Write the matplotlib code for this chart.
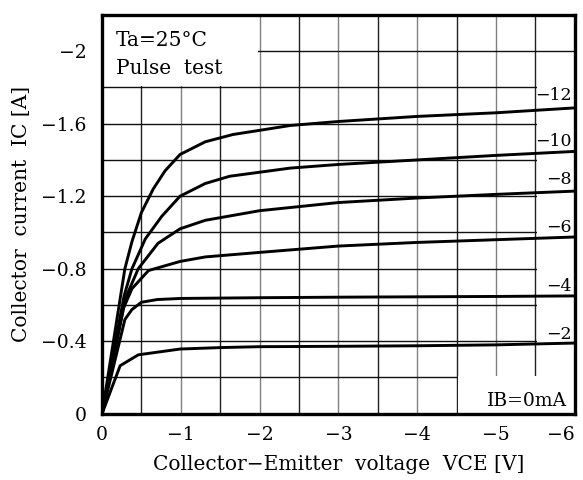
import numpy as np
import matplotlib
matplotlib.use("Agg")
import matplotlib.pyplot as plt
from matplotlib.patches import Rectangle

# ─── Data ────────────────────────────────────────────────────────────
ib_labels = ["−2", "−4", "−6", "−8", "−10", "−12"]

vce_2 = [0, -0.23, -0.46, -0.99, -1.5, -2, -3, -4, -5, -6]
ic_2 = [0, -0.265, -0.325, -0.357, -0.365, -0.37, -0.372, -0.375, -0.38, -0.39]

vce_4 = [0, -0.29, -0.38, -0.5, -0.7, -1.0, -2, -3, -4, -5, -6]
ic_4 = [0, -0.52, -0.575, -0.615, -0.63, -0.636, -0.64, -0.643, -0.645, -0.647, -0.65]

vce_6 = [0, -0.27, -0.38, -0.59, -0.99, -1.31, -2, -3, -4, -5, -6]
ic_6 = [0, -0.58, -0.69, -0.79, -0.84, -0.865, -0.89, -0.925, -0.945, -0.96, -0.975]

vce_8 = [0, -0.3, -0.46, -0.71, -0.99, -1.31, -2, -3, -4, -5, -6]
ic_8 = [0, -0.64, -0.80, -0.94, -1.02, -1.067, -1.12, -1.165, -1.19, -1.21, -1.228]

vce_10 = [0, -0.28, -0.38, -0.55, -0.76, -0.99, -1.31, -1.62, -2.39, -3, -4, -5, -6]
ic_10 = [0, -0.65, -0.80, -0.965, -1.09, -1.20, -1.27, -1.31, -1.355, -1.375, -1.40, -1.425, -1.447]

vce_12 = [0, -0.29, -0.38, -0.5, -0.65, -0.8, -0.99, -1.31, -1.66, -2.39, -3, -4, -5, -6]
ic_12 = [0, -0.80, -0.95, -1.11, -1.24, -1.34, -1.43, -1.50, -1.54, -1.59, -1.612, -1.64, -1.66, -1.687]

curves = [(vce_2, ic_2), (vce_4, ic_4), (vce_6, ic_6),
          (vce_8, ic_8), (vce_10, ic_10), (vce_12, ic_12)]
label_y = [-0.437, -0.70, -1.03, -1.29, -1.50, -1.754]

xticks = [0, -1, -2, -3, -4, -5, -6]
xtick_labels = ["0", "−1", "−2", "−3", "−4", "−5", "−6"]
yticks = [0, -0.4, -0.8, -1.2, -1.6, -2.0]
ytick_labels = ["0", "−0.4", "−0.8", "−1.2", "−1.6", "−2"]

# ─── Style ───────────────────────────────────────────────────────────
plt.rcParams.update({
    "font.family": "DejaVu Serif",
    "font.size": 11,
})

fig = plt.figure(figsize=(5.83, 4.80), dpi=100)
ax = fig.add_axes([0.175, 0.138, 0.811, 0.831])

ax.set_xlim(0, -6)
ax.set_ylim(0, -2.2)

ax.set_xticks(xticks)
ax.set_xticklabels(xtick_labels)
ax.set_yticks(yticks)
ax.set_yticklabels(ytick_labels)
ax.set_xticks(np.arange(-0.5, -6, -1.0), minor=True)
ax.set_yticks(np.arange(-0.2, -2.2, -0.4), minor=True)
ax.tick_params(which="both", length=0)
ax.tick_params(axis="x", pad=9, labelsize=13.5)
ax.tick_params(axis="y", pad=11, labelsize=13.5)
ax.get_xticklabels()[-1].set_ha("right")

ax.grid(which="major", axis="x", color="#808080", lw=1.0, zorder=0)
ax.grid(which="minor", axis="x", color="#202020", lw=1.0, zorder=0)
ax.grid(which="both", axis="y", color="#101010", lw=1.0, zorder=0)
ax.set_axisbelow(True)

for s in ax.spines.values():
    s.set_linewidth(2.4)
    s.set_color("black")

# white blank areas over the grid
dx, dy = 0.015, 0.007
ax.add_patch(Rectangle((0, -1.8 - dy), -2 + dx, -0.45, facecolor="white",
                       edgecolor="none", zorder=1))
ax.add_patch(Rectangle((-5.5 - dx, -0.2 - dy), -0.6, -1.7,
                       facecolor="white", edgecolor="none", zorder=1))
ax.add_patch(Rectangle((-4.5 - dx, 0.05), -1.6, -0.25 - dy,
                       facecolor="white", edgecolor="none", zorder=1))

for (vx, iy), lab, ly in zip(curves, ib_labels, label_y):
    ax.plot(vx, iy, color="black", lw=2.1, zorder=3, solid_capstyle="butt")
    ax.text(-5.96, ly, lab, ha="right", va="center", fontsize=12.5, zorder=4)

ax.text(-0.18, -2.06, "Ta=25°C", ha="left", va="center", fontsize=14.5, zorder=4)
ax.text(-0.18, -1.905, "Pulse  test", ha="left", va="center", fontsize=14.5, zorder=4)
ax.text(-5.9, -0.07, "IB=0mA", ha="right", va="center", fontsize=13.5, zorder=4)

ax.set_xlabel("Collector−Emitter  voltage  VCE [V]", fontsize=14.5, labelpad=8)
ax.set_ylabel("Collector  current  IC [A]", fontsize=14.5, labelpad=7)

fig.savefig("out.png", dpi=100)
